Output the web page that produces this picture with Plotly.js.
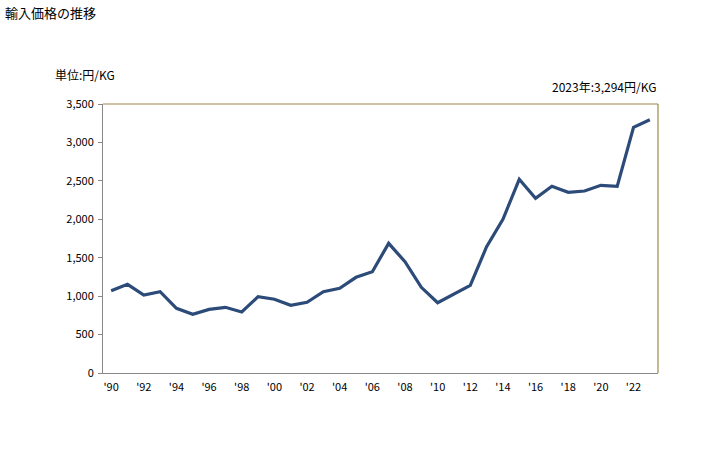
<!DOCTYPE html>
<html>
<head>
<meta charset="utf-8">
<script src="https://cdn.plot.ly/plotly-3.0.1.min.js"></script>
<style>html,body{margin:0;padding:0;background:#fff;}#chart{width:728px;height:450px;}</style>
</head>
<body>
<div id="chart"></div>
<script>
const years = [1990,1991,1992,1993,1994,1995,1996,1997,1998,1999,2000,2001,2002,2003,2004,2005,2006,2007,2008,2009,2010,2011,2012,2013,2014,2015,2016,2017,2018,2019,2020,2021,2022,2023];
const prices = [1071,1154,1015,1058,841,763,828,855,794,993,959,880,920,1058,1102,1245,1318,1687,1448,1115,915,1024,1140,1643,2000,2520,2273,2429,2351,2368,2442,2429,3197,3294];
const tickYears = [1990,1992,1994,1996,1998,2000,2002,2004,2006,2008,2010,2012,2014,2016,2018,2020,2022];
const tickLabels = ["'90","'92","'94","'96","'98","'00","'02","'04","'06","'08","'10","'12","'14","'16","'18","'20","'22"];
const yTicks = [0,500,1000,1500,2000,2500,3000,3500];
const yTickLabels = ["0","500","1,000","1,500","2,000","2,500","3,000","3,500"];
const titleText = "輸入価格の推移";
const unitText = "単位:円/KG";
const latestText = "2023年:3,294円/KG";

const font = "'Noto Sans CJK JP', 'DejaVu Sans', sans-serif";

const trace = {
  x: years, y: prices, type: 'scatter', mode: 'lines',
  line: {color: '#2c4b78', width: 3.2}, hoverinfo: 'skip'
};

const layout = {
  width: 728, height: 450,
  margin: {l: 103, r: 70, t: 104, b: 77},
  paper_bgcolor: '#fff', plot_bgcolor: '#fff',
  font: {family: font, size: 11, color: '#000'},
  showlegend: false,
  xaxis: {
    range: [1989.5, 2023.5], tickvals: tickYears, ticktext: tickLabels,
    showgrid: false, zeroline: false, showline: true, linecolor: '#888', linewidth: 1,
    ticks: '', ticklabelstandoff: 4, tickfont: {family: font, size: 11}, mirror: false
  },
  yaxis: {
    range: [0, 3500], tickvals: yTicks, ticktext: yTickLabels,
    showgrid: false, zeroline: false, showline: true, linecolor: '#888', linewidth: 1,
    ticks: 'outside', ticklen: 4, tickcolor: '#888', ticklabelstandoff: 2, tickfont: {family: font, size: 11}
  },
  shapes: [
    {type: 'line', xref: 'paper', yref: 'paper', x0: 0, x1: 1, y0: 1, y1: 1, line: {color: '#9a8a4a', width: 1.2}},
    {type: 'line', xref: 'paper', yref: 'paper', x0: 1, x1: 1, y0: 0, y1: 1, line: {color: '#9a8a4a', width: 1.2}}
  ],
  annotations: [
    {text: titleText, xref: 'paper', yref: 'paper', x: -100/555, y: 1 + 92/269, xanchor: 'left', yanchor: 'middle', showarrow: false, font: {family: font, size: 13}},
    {text: unitText, xref: 'paper', yref: 'paper', x: -50/555, y: 1 + 30/269, xanchor: 'left', yanchor: 'middle', showarrow: false, font: {family: font, size: 12}},
    {text: latestText, xref: 'paper', yref: 'paper', x: 1, y: 1 + 18/269, xanchor: 'right', yanchor: 'middle', showarrow: false, font: {family: font, size: 12}}
  ]
};

Plotly.newPlot('chart', [trace], layout, {displayModeBar: false, staticPlot: true});
</script>
</body>
</html>
